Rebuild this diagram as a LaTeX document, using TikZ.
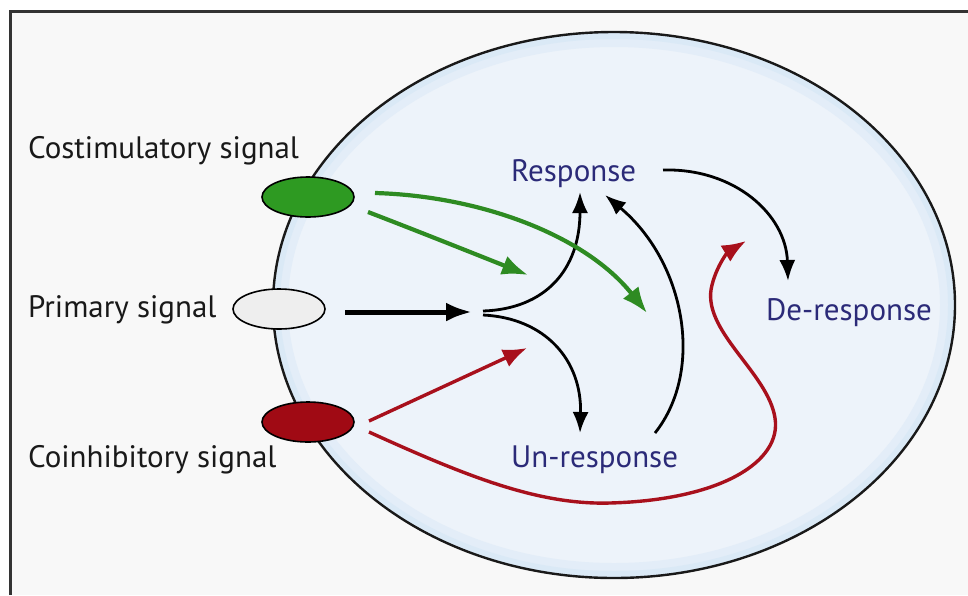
\documentclass[tikz,border=0pt]{standalone}
\usepackage{fontspec}
\setmainfont{PT Sans}
\usetikzlibrary{arrows.meta,shapes.geometric}
\definecolor{bgc}{HTML}{F8F8F8}
\definecolor{cellc}{HTML}{EDF3FA}
\definecolor{cellg}{HTML}{D3E5F5}
\definecolor{navy}{HTML}{2B2A78}
\definecolor{gsig}{HTML}{2E9A22}
\definecolor{rsig}{HTML}{A00A14}
\definecolor{greyc}{HTML}{EEEEEE}
\definecolor{garr}{HTML}{2E8B22}
\definecolor{rarr}{HTML}{A8101C}
\tikzset{
  lbl/.style={font=\fontsize{31}{35}\selectfont, text=black!90, inner sep=0pt, anchor=base west},
  state/.style={font=\fontsize{31}{35}\selectfont, text=navy, inner sep=0pt, anchor=base west},
  sig/.style={ellipse, draw=black, line width=1.6pt, minimum width=92pt, minimum height=40pt, inner sep=0pt},
  barr/.style={draw=black, line width=2.8pt, -{Latex[length=21pt,width=16pt]}},
  parr/.style={draw=black, line width=5pt, -{Latex[length=26pt,width=19pt]}},
  garrow/.style={draw=garr, line width=4.2pt, -{Latex[length=26pt,width=20pt]}},
  rarrow/.style={draw=rarr, line width=3.4pt, -{Latex[length=24pt,width=19pt]}},
}
\begin{document}
\begin{tikzpicture}[x=1pt,y=-1pt]
\useasboundingbox (0,0) rectangle (968,595);
% frame
\fill[bgc] (10,11) rectangle (968,595);
\draw[black!80, line width=3pt] (10,595) -- (10,11) -- (968,11);
% cell
\fill[cellc] (614,305) ellipse [x radius=341, y radius=273];
\begin{scope}
\clip (614,305) ellipse [x radius=341, y radius=273];
\draw[cellg!40!cellc, line width=30pt] (614,305) ellipse [x radius=341, y radius=273];
\draw[cellg!75!cellc, line width=14pt] (614,305) ellipse [x radius=341, y radius=273];
\end{scope}
\draw[black!90, line width=2.4pt] (614,305) ellipse [x radius=341, y radius=273];
% signals
\node[sig, fill=gsig] (cos) at (308,197) {};
\node[sig, fill=greyc] (pri) at (279,309) {};
\node[sig, fill=rsig] (coi) at (308,422) {};
% labels
\node[lbl] (lcos) at (28,158) {Costimulatory signal};
\node[lbl] (lpri) at (28,317) {Primary signal};
\node[lbl] (lcoi) at (28,467) {Coinhibitory signal};
% states
\node[state] (resp) at (511,181) {Response};
\node[state] (unr) at (511,467) {Un-response};
\node[state] (der) at (766,320) {De-response};
% junction coordinates
\coordinate (pstart) at (345,312);
\coordinate (pend) at (472,312);
\coordinate (ju) at (483,311);
\coordinate (jd) at (483,315);
\coordinate (upt) at (580,192);
\coordinate (dnt) at (580,433);
\coordinate (g1s) at (368,212);
\coordinate (g1e) at (528,275);
\coordinate (g2s) at (375,193);
\coordinate (g2e) at (647,313);
\coordinate (r1s) at (369,421);
\coordinate (r1e) at (527,348);
\coordinate (r2s) at (369,432);
\coordinate (r2e) at (746,241);
\coordinate (us) at (655,433);
\coordinate (ue) at (605,195);
\coordinate (rs) at (663,170);
\coordinate (re) at (788,281);
% arrows
\draw[parr] (pstart) -- (pend);
\draw[barr] (ju) .. controls (545,309) and (580,270) .. (upt);
\draw[barr] (jd) .. controls (545,318) and (582,360) .. (dnt);
\draw[garrow] (g1s) .. controls (420,232) and (470,252) .. (g1e);
\draw[garrow] (g2s) .. controls (480,196) and (585,235) .. (g2e);
\draw[rarrow] (r1s) -- (r1e);
\draw[rarrow] (r2s) .. controls (470,478) and (540,505) .. (610,503)
  .. controls (720,500) and (782,462) .. (775,418)
  .. controls (768,372) and (700,330) .. (712,285)
  .. controls (717,265) and (728,252) .. (r2e);
\draw[barr] (us) .. controls (705,370) and (685,262) .. (ue);
\draw[barr] (rs) .. controls (735,168) and (786,215) .. (re);
\end{tikzpicture}
\end{document}
